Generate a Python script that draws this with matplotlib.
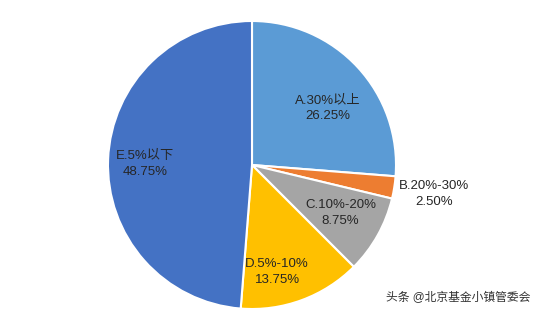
import numpy as np
import matplotlib.pyplot as plt

plt.rcParams['font.family'] = ['Liberation Sans', 'Noto Sans CJK SC', 'DejaVu Sans']

# Fund size share by return bracket
categories = ['A.30%以上', 'B.20%-30%', 'C.10%-20%', 'D.5%-10%', 'E.5%以下']
shares = [26.25, 2.50, 8.75, 13.75, 48.75]
colors = ['#5B9BD5', '#ED7D31', '#A5A5A5', '#FFC000', '#4472C4']

# label placement (fraction of radius, angle tweak in degrees)
label_dist = [0.66, 1.28, 0.70, 0.76, 0.74]
label_tweak = [-6, -0.2, 0.6, -7, 1.7]

fig = plt.figure(figsize=(5.34, 3.24), dpi=100)
ax = fig.add_axes([0, 0, 1, 1])

cx, cy, r = 252, 159, 144
wedges, _ = ax.pie(shares, colors=colors, startangle=90, counterclock=False,
                   center=(cx, cy), radius=r, frame=True,
                   wedgeprops=dict(edgecolor='white', linewidth=1.5))
ax.set_xlim(0, 534)
ax.set_ylim(0, 324)
ax.set_aspect('equal')
ax.axis('off')

for w, cat, val, d, t in zip(wedges, categories, shares, label_dist, label_tweak):
    ang = np.deg2rad((w.theta1 + w.theta2) / 2 + t)
    x = cx + d * r * np.cos(ang)
    y = cy + d * r * np.sin(ang)
    ax.text(x, y, f'{cat}\n{val:.2f}%', ha='center', va='center',
            fontsize=9.5, color='#262626', linespacing=1.45)

fig.text(0.993, 0.08, '头条 @北京基金小镇管委会', fontsize=8.5, color='#333333',
         ha='right', va='center')

fig.savefig('out.png', dpi=100)
